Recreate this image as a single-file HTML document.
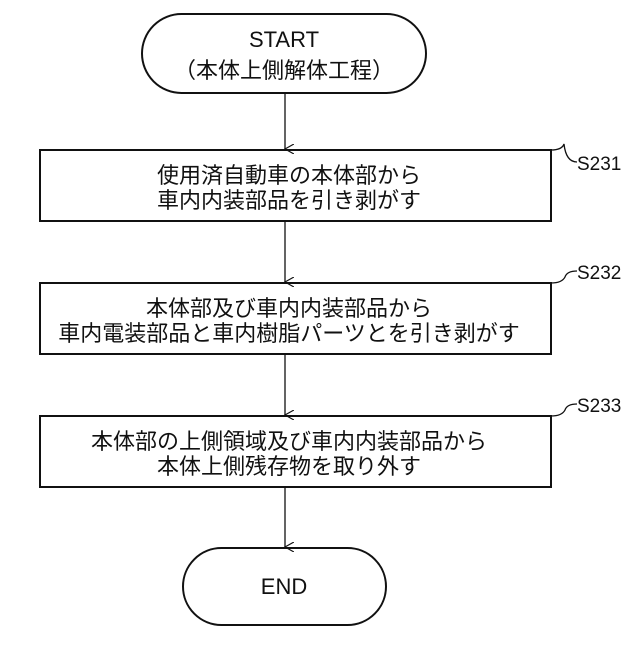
<!DOCTYPE html>
<html><head><meta charset="utf-8"><style>
body{margin:0;background:#fff}
svg text{font-family:"Liberation Sans","Noto Sans CJK JP",sans-serif;fill:#111}
</style></head><body>
<svg width="640" height="640" viewBox="0 0 640 640" xmlns="http://www.w3.org/2000/svg">
<defs><marker id="a" markerWidth="10" markerHeight="10" refX="5" refY="9" orient="auto" markerUnits="userSpaceOnUse"><path d="M0,0 L5,9 L10,0" fill="none" stroke="#111" stroke-width="1.2"/></marker></defs>
<g fill="none" stroke="#111" stroke-width="2">
<rect x="142" y="14" width="284" height="79" rx="39.5"/>
<rect x="40" y="150" width="511" height="71"/>
<rect x="40" y="283" width="511" height="71"/>
<rect x="40" y="416" width="511" height="71"/>
<rect x="183" y="548" width="203" height="77" rx="38.5"/>
</g>
<g stroke="#111" stroke-width="1.3" fill="none">
<line x1="285" y1="93" x2="285" y2="149" marker-end="url(#a)"/>
<line x1="285" y1="221" x2="285" y2="282" marker-end="url(#a)"/>
<line x1="285" y1="354" x2="285" y2="415" marker-end="url(#a)"/>
<line x1="285" y1="487" x2="285" y2="547" marker-end="url(#a)"/>
<path d="M551,150 Q562,150 564,144 Q566,162 577,162"/>
<path d="M551,283 Q562,283 565,277 Q567,271 577,271"/>
<path d="M551,416 Q562,416 565,410 Q567,404 577,404"/>
</g>
<g font-size="22" text-anchor="middle">
<text x="284" y="47">START</text>
<text x="284" y="78">（本体上側解体工程）</text>
<text x="289" y="183">使用済自動車の本体部から</text>
<text x="289" y="208">車内内装部品を引き剥がす</text>
<text x="289" y="316">本体部及び車内内装部品から</text>
<text x="289" y="341">車内電装部品と車内樹脂パーツとを引き剥がす</text>
<text x="289" y="449">本体部の上側領域及び車内内装部品から</text>
<text x="289" y="474">本体上側残存物を取り外す</text>
<text x="284" y="594">END</text>
</g>
<g font-size="19">
<text x="577" y="170">S231</text>
<text x="577" y="279">S232</text>
<text x="577" y="412">S233</text>
</g>
</svg>
</body></html>
